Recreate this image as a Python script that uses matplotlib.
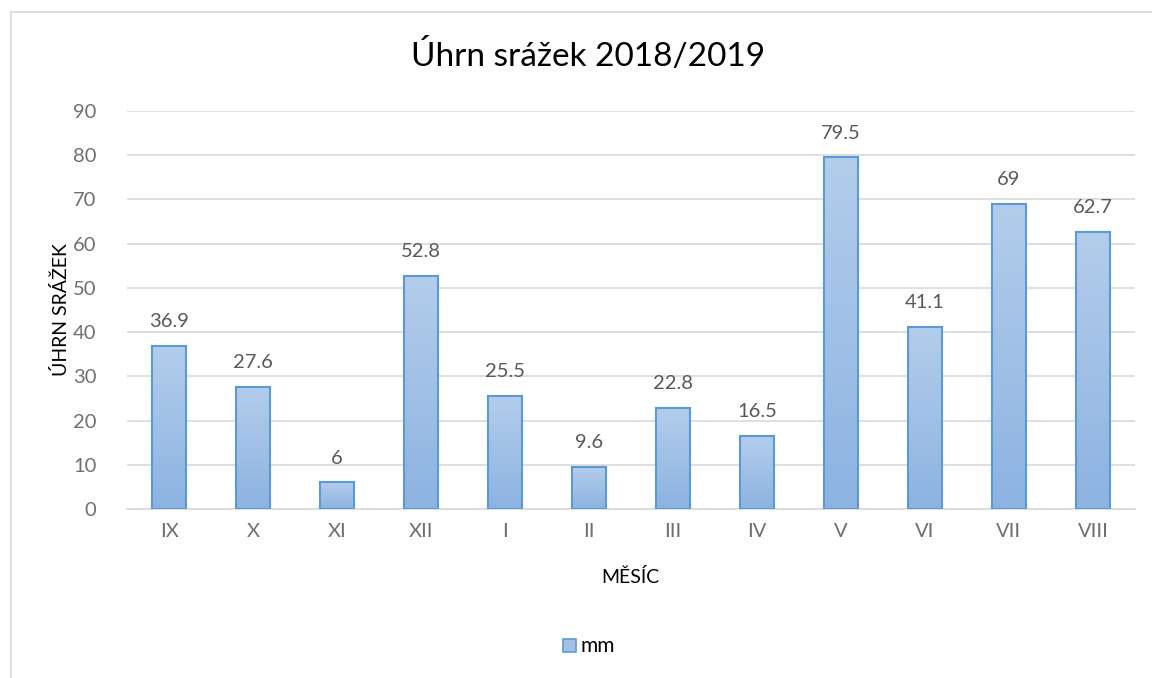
import numpy as np
import matplotlib.pyplot as plt
from matplotlib.colors import LinearSegmentedColormap
from matplotlib.patches import Rectangle

months = ['IX', 'X', 'XI', 'XII', 'I', 'II', 'III', 'IV', 'V', 'VI', 'VII', 'VIII']
rain_mm = [36.9, 27.6, 6, 52.8, 25.5, 9.6, 22.8, 16.5, 79.5, 41.1, 69, 62.7]

plt.rcParams['font.family'] = ['Lato', 'DejaVu Sans']

fig = plt.figure(figsize=(11.52, 6.78), dpi=100)
# chart frame (clipped on the right/bottom like the reference)
fig.patches.append(Rectangle((11/1152, -0.1), 1.1, 1 - 12/678 + 0.1, transform=fig.transFigure,
                             fill=False, edgecolor='#d9d9d9', linewidth=1.2))

ax = fig.add_axes([127/1152, 1 - 509/678, (1135 - 127)/1152, (509 - 111)/678])

grad = LinearSegmentedColormap.from_list('g', ['#8db3e2', '#b3cdeb'])
x = np.arange(len(months))
w = 0.4
for xi, v in zip(x, rain_mm):
    ax.imshow(np.linspace(0, 1, 100).reshape(-1, 1), cmap=grad, origin='lower',
              extent=[xi - w/2, xi + w/2, 0, v], aspect='auto', zorder=2)
bars = ax.bar(x, rain_mm, width=w, facecolor='none', edgecolor='#5b9bd5', linewidth=1.5, zorder=3)

for xi, v in zip(x, rain_mm):
    ax.text(xi, v + 3.6, f'{v:g}', ha='center', va='bottom', fontsize=14.5, color='#595959')

ax.set_xlim(-0.5, len(months) - 0.5)
ax.set_ylim(0, 90)
ax.set_yticks(range(0, 91, 10))
ax.set_xticks(x)
ax.set_xticklabels(months)
ax.tick_params(length=0, labelsize=14.5, labelcolor='#6f6f6f', pad=10)
ax.tick_params(axis='y', pad=22)
ax.grid(axis='y', color='#d9d9d9', linewidth=1.2, zorder=0)
ax.set_axisbelow(True)
for s in ['top', 'right', 'left']:
    ax.spines[s].set_visible(False)
ax.spines['bottom'].set_color('#d9d9d9')
ax.spines['bottom'].set_linewidth(1.2)

fig.text(588/1152, 1 - 56/678, 'Úhrn srážek 2018/2019', ha='center', va='center', fontsize=24, color='#000000')
fig.text(61/1152, 1 - 310/678, 'ÚHRN SRÁŽEK', rotation=90, ha='center', va='center', fontsize=14, color='#000000')
fig.text(630/1152, 1 - 577/678, 'MĚSÍC', ha='center', va='center', fontsize=14, color='#000000')

# legend
fig.patches.append(Rectangle((563/1152, 1 - 652/678), 13/1152, 13/678, transform=fig.transFigure,
                             facecolor='#a3c1e7', edgecolor='#5b9bd5', linewidth=1.2))
fig.text(581/1152, 1 - 646/678, 'mm', ha='left', va='center', fontsize=15, color='#000000')

fig.savefig('out.png', dpi=100)
